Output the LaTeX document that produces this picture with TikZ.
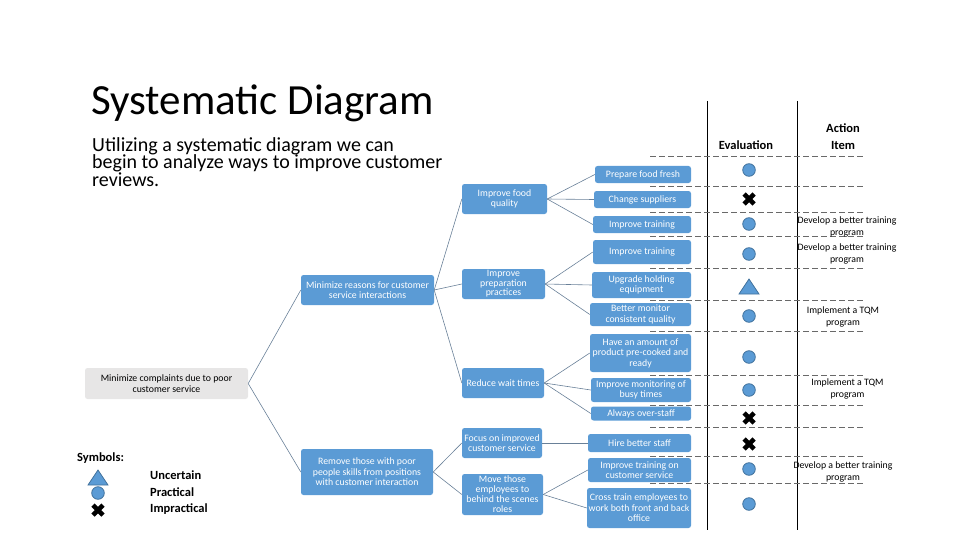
\documentclass[tikz,border=0pt]{standalone}
\usepackage{fontspec}
\setmainfont{Carlito}
\definecolor{boxblue}{RGB}{91,155,213}
\definecolor{rimblue}{RGB}{65,113,156}
\definecolor{rootgray}{RGB}{231,230,230}
\definecolor{linkgray}{RGB}{105,128,152}
\definecolor{sepgray}{RGB}{105,105,105}

\tikzset{
  uncertainmark/.pic={\filldraw[fill=boxblue, draw=rimblue, line width=0.8pt] (-10,7) -- (10,7) -- (0,-8) -- cycle;},
  practicalmark/.pic={\filldraw[fill=boxblue, draw=rimblue, line width=0.8pt] (0,0) circle (6.3pt);},
  impracticalmark/.pic={\draw[line width=4.6pt] (-5,-5) -- (5,5) (-5,5) -- (5,-5);}
}

\begin{document}
\begin{tikzpicture}[x=1pt, y=-1pt,
  leaf/.style={fill=boxblue, text=white, rounded corners=2.5pt, inner sep=1pt, align=center,
    font=\fontsize{9.8}{10.5}\selectfont},
  root/.style={leaf, fill=rootgray, text=black},
  link/.style={draw=linkgray, line width=0.6pt},
  rowline/.style={draw=sepgray, dash pattern=on 6pt off 3pt, line width=0.6pt},
  colline/.style={draw=black, line width=1pt},
  head/.style={font=\fontsize{12.5}{17}\selectfont\bfseries, align=center},
  note/.style={font=\fontsize{9.8}{12}\selectfont, align=center}]
  \useasboundingbox (0,0) rectangle (960,540);

  % heading
  \node[anchor=base west, inner sep=0, font=\fontsize{43}{43}\selectfont] (title) at (91,115) {Systematic Diagram};
  \node[anchor=north west, inner sep=0, align=left, font=\fontsize{20}{17.8}\selectfont] (intro) at (92,137)
    {Utilizing a systematic diagram we can\\begin to analyze ways to improve customer\\reviews.};

  % table grid
  \draw[colline] (707.5,101) -- (707.5,530);
  \draw[colline] (797,101) -- (797,530);
  \foreach \y in {156,186,212,236,268,300,331,375,405,427,456,483}
    \draw[rowline] (650,\y) -- (865,\y);
  \node[head] (evalhead) at (746,145) {Evaluation};
  \node[head] (actionhead) at (843,137) {Action\\Item};

  % tree
  \node[root, minimum width=163, minimum height=31] (complaints) at (166.5,383.5) {Minimize complaints due to poor\\customer service};
  \node[leaf, minimum width=133, minimum height=30] (reasons) at (367.5,290) {Minimize reasons for customer\\service interactions};
  \node[leaf, minimum width=132, minimum height=46] (remove) at (367,472) {Remove those with poor\\people skills from positions\\with customer interaction};

  \node[leaf, minimum width=85, minimum height=30] (food) at (504.5,199) {Improve food\\quality};
  \node[leaf, minimum width=83, minimum height=30, font=\fontsize{9.8}{9.6}\selectfont] (prep) at (503.5,284) {Improve\\preparation\\practices};
  \node[leaf, minimum width=82, minimum height=30] (wait) at (503,383) {Reduce wait times};
  \node[leaf, minimum width=80, minimum height=30] (focus) at (502,443) {Focus on improved\\customer service};
  \node[leaf, minimum width=81, minimum height=41, font=\fontsize{9.8}{10}\selectfont] (move) at (502.5,494.5) {Move those\\employees to\\behind the scenes\\roles};

  \node[leaf, minimum width=96, minimum height=17] (fresh) at (643,174.5) {Prepare food fresh};
  \node[leaf, minimum width=97, minimum height=17] (suppliers) at (642.5,199.5) {Change suppliers};
  \node[leaf, minimum width=98, minimum height=17] (trainA) at (642,224.5) {Improve training};
  \node[leaf, minimum width=98, minimum height=24] (trainB) at (642,252) {Improve training};
  \node[leaf, minimum width=99, minimum height=26] (holding) at (641.5,285) {Upgrade holding\\equipment};
  \node[leaf, minimum width=101, minimum height=23] (monitor) at (640.5,314.5) {Better monitor\\consistent quality};
  \node[leaf, minimum width=101, minimum height=38] (precook) at (640.5,353) {Have an amount of\\product pre-cooked and\\ready};
  \node[leaf, minimum width=100, minimum height=24] (busy) at (641,390) {Improve monitoring of\\busy times};
  \node[leaf, minimum width=100, minimum height=14] (overstaff) at (641,413.5) {Always over-staff};
  \node[leaf, minimum width=103, minimum height=18] (hire) at (639.5,443) {Hire better staff};
  \node[leaf, minimum width=103, minimum height=24] (trainC) at (639.5,470) {Improve training on\\customer service};
  \node[leaf, minimum width=104, minimum height=40] (cross) at (639,508) {Cross train employees to\\work both front and back\\office};

  \draw[link] (complaints.east) -- (reasons.west);
  \draw[link] (complaints.east) -- (remove.west);
  \draw[link] (reasons.east) -- (food.west);
  \draw[link] (reasons.east) -- (prep.west);
  \draw[link] (reasons.east) -- (wait.west);
  \draw[link] (remove.east) -- (focus.west);
  \draw[link] (remove.east) -- (move.west);
  \draw[link] (food.east) -- (fresh.west);
  \draw[link] (food.east) -- (suppliers.west);
  \draw[link] (food.east) -- (trainA.west);
  \draw[link] (prep.east) -- (trainB.west);
  \draw[link] (prep.east) -- (holding.west);
  \draw[link] (prep.east) -- (monitor.west);
  \draw[link] (wait.east) -- (precook.west);
  \draw[link] (wait.east) -- (busy.west);
  \draw[link] (wait.east) -- (overstaff.west);
  \draw[link] (focus.east) -- (hire.west);
  \draw[link] (move.east) -- (trainC.west);
  \draw[link] (move.east) -- (cross.west);

  % evaluation marks
  \pic (evA) at (749,170) {practicalmark};
  \pic (evB) at (749,199) {impracticalmark};
  \pic (evC) at (749,224) {practicalmark};
  \pic (evD) at (749,254) {practicalmark};
  \pic (evE) at (749,287) {uncertainmark};
  \pic (evF) at (749,316) {practicalmark};
  \pic (evG) at (749,357) {practicalmark};
  \pic (evH) at (749,390) {practicalmark};
  \pic (evI) at (749,418) {impracticalmark};
  \pic (evJ) at (749,444) {impracticalmark};
  \pic (evK) at (749,469) {practicalmark};
  \pic (evL) at (749,504) {practicalmark};

  % action items
  \node[note] (actA) at (847,226.5) {Develop a better training\\program};
  \node[note] (actB) at (847,254) {Develop a better training\\program};
  \node[note] (actC) at (843,317) {Implement a TQM\\program};
  \node[note] (actD) at (847.5,389) {Implement a TQM\\program};
  \node[note] (actE) at (843,472) {Develop a better training\\program};

  % legend
  \node[head, anchor=west, inner sep=0] (symbols) at (77,458) {Symbols:};
  \pic (lgA) at (98,478) {uncertainmark};
  \pic (lgB) at (98,493) {practicalmark};
  \pic (lgC) at (98,510) {impracticalmark};
  \node[head, anchor=west, inner sep=0] (uncertain) at (150,475.5) {Uncertain};
  \node[head, anchor=west, inner sep=0] (practical) at (150,492.5) {Practical};
  \node[head, anchor=west, inner sep=0] (impractical) at (150,509.5) {Impractical};
\end{tikzpicture}
\end{document}
